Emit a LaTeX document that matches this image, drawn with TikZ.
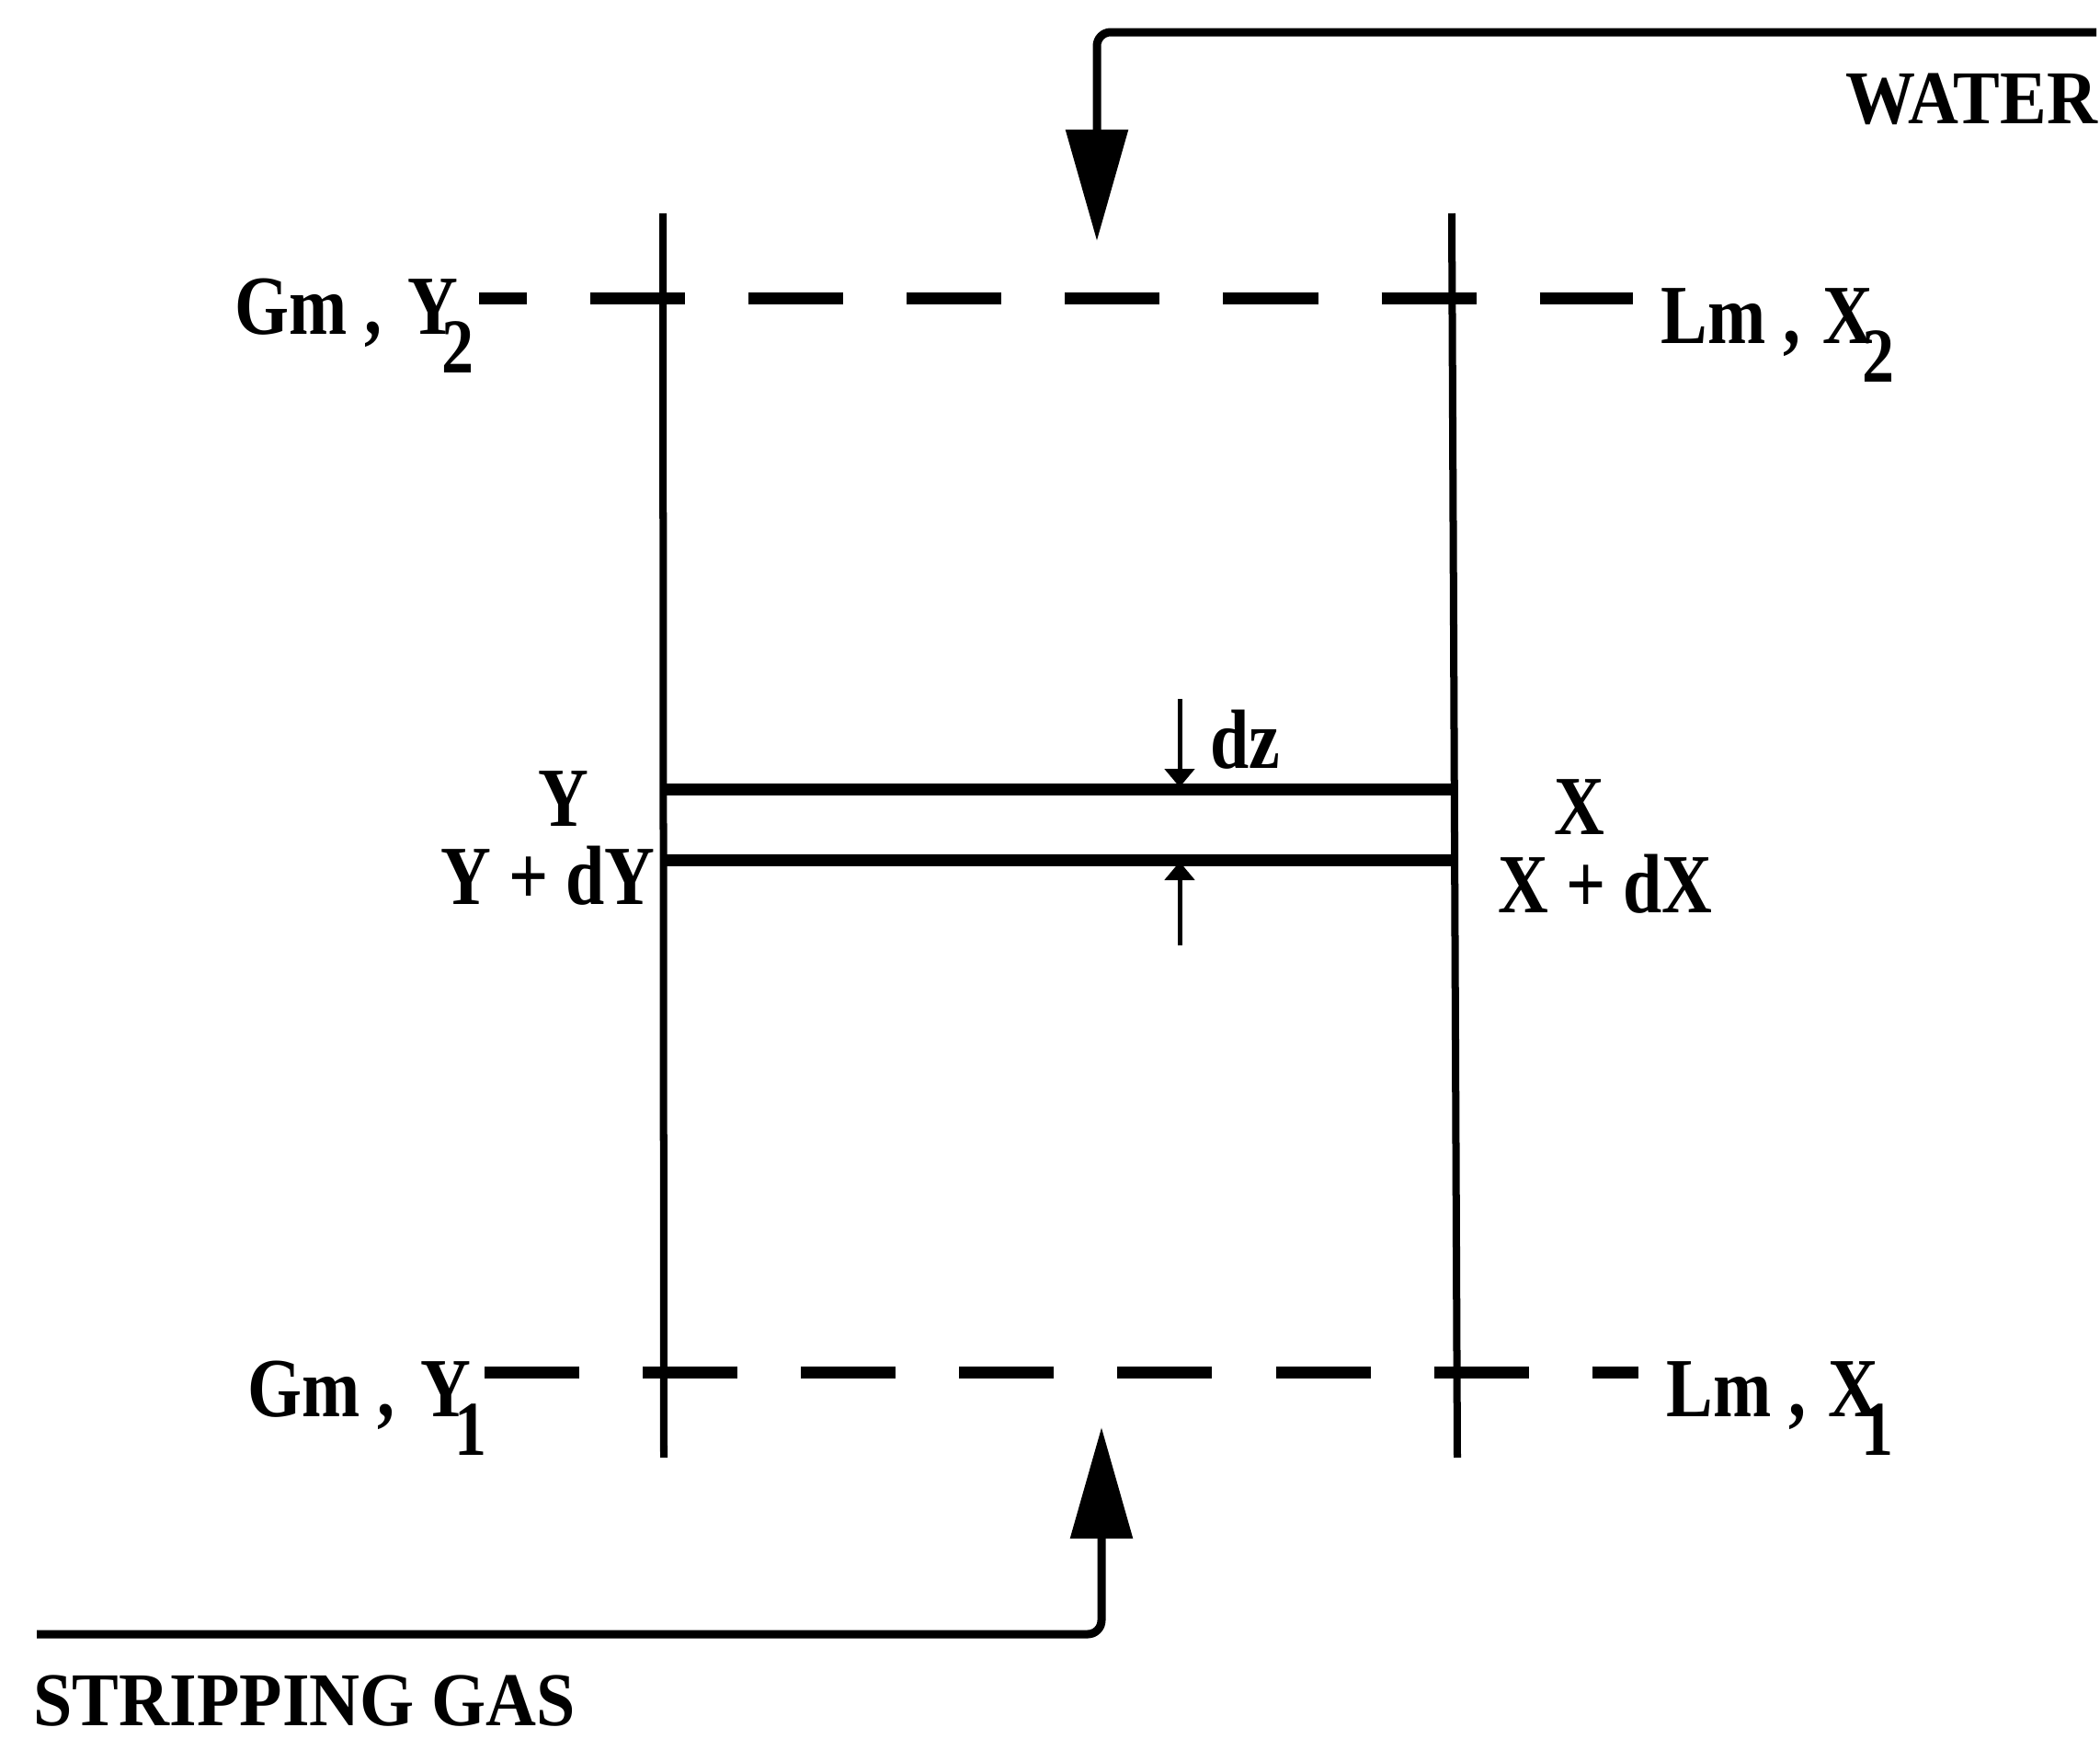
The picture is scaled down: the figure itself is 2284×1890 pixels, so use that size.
\documentclass[tikz,border=0pt]{standalone}
\usepackage{fontspec}
\setmainfont{Liberation Serif}[FakeStretch=0.83]
\newfontfamily\captfont{Liberation Serif}[FakeStretch=0.92]
\usetikzlibrary{arrows.meta,calc}
\newcommand{\sdrop}[2]{\kern#1em\raisebox{-.46em}{\fontsize{24}{24}\selectfont #2}}
\begin{document}
\begin{tikzpicture}[
        x=0.01cm, y=-0.01cm,
        every node/.style={font=\fontsize{26}{28}\selectfont\bfseries, anchor=base west, inner sep=0pt},
        capt/.style={font=\fontsize{23.5}{26}\captfont\bfseries},
        wall/.style={line width=0.08cm},
        band/.style={line width=0.13cm},
        level/.style={line width=0.13cm, dash pattern=on 1.03cm off 0.69cm},
        feed/.style={-{Triangle[length=1.21cm,width=0.66cm]}, line width=0.09cm, rounded corners=0.15cm},
        gap/.style={-{Triangle[length=0.2cm,width=0.32cm]}, line width=0.05cm}
    ]
        \useasboundingbox (0,0) rectangle (2284,1890);
        \fill[white] (0,0) rectangle (2284,1890);

        \coordinate (wallLT) at (721,232);
        \coordinate (wallLB) at (722,1585);
        \coordinate (wallRT) at (1579,232);
        \coordinate (wallRB) at (1585,1585);
        \draw[wall] (wallLT) -- (wallLB);
        \draw[wall] (wallRT) -- (wallRB);

        \coordinate (topL) at (521,324);
        \coordinate (topR) at (1776,324);
        \coordinate (botL) at (527,1492);
        \coordinate (botR) at (1782,1492);
        \draw[level, dash phase=0.51cm] (topL) -- (topR);
        \draw[level] (botL) -- (botR);

        \coordinate (bandAL) at (720,858);
        \coordinate (bandAR) at (1584,858);
        \coordinate (bandBL) at (720,935);
        \coordinate (bandBR) at (1584,935);
        \draw[band] (bandAL) -- (bandAR);
        \draw[band] (bandBL) -- (bandBR);

        \coordinate (gapTs) at (1283,760);
        \coordinate (gapTe) at (1283,856);
        \coordinate (gapBs) at (1283,1028);
        \coordinate (gapBe) at (1283,937);
        \draw[gap] (gapTs) -- (gapTe);
        \draw[gap] (gapBs) -- (gapBe);

        \node[capt] (water) at (2007,134) {WATER};
        \node[capt] (gas) at (36,1876) {STRIPPING GAS};
        \coordinate (waterS) at (2280,35);
        \coordinate (waterE) at (1193,262);
        \coordinate (gasS) at (40,1777);
        \coordinate (gasE) at (1198,1552);
        \draw[feed] (waterS) -| (waterE);
        \draw[feed] (gasS) -| (gasE);

        \node (gmtop) at (255,363) {Gm ,\kern.1em{} Y\sdrop{-.2}{2}};
        \node (lmtop) at (1806,373) {Lm ,\kern.05em{} X\sdrop{-.12}{2}};
        \node (gmbot) at (269,1540) {Gm ,\kern.1em{} Y\sdrop{-.2}{1}};
        \node (lmbot) at (1812,1540) {Lm ,\kern.05em{} X\sdrop{-.2}{1}};
        \node (ya) at (585,898) {Y};
        \node (xa) at (1690,907) {X};
        \node (yb) at (479,983) {Y + dY};
        \node (xb) at (1629,992) {X + dX};
        \node (dz) at (1316,835) {dz};
    \end{tikzpicture}
\end{document}
